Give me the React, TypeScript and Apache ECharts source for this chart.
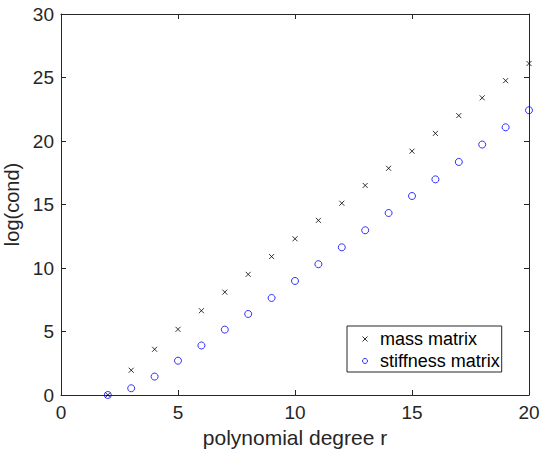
import React, { useEffect, useRef } from "react";
import * as echarts from "echarts";

const degrees = [2, 3, 4, 5, 6, 7, 8, 9, 10, 11, 12, 13, 14, 15, 16, 17, 18, 19, 20];
const massCond = [0, 1.95, 3.6, 5.17, 6.64, 8.1, 9.5, 10.9, 12.3, 13.75, 15.1, 16.5, 17.85, 19.2, 20.6, 22.0, 23.4, 24.75, 26.1];
const stiffCond = [0, 0.53, 1.45, 2.7, 3.9, 5.15, 6.38, 7.64, 8.98, 10.3, 11.63, 12.97, 14.33, 15.67, 16.98, 18.35, 19.72, 21.08, 22.42];
const seriesNames = ["mass matrix", "stiffness matrix"];
const xTitle = "polynomial degree r";
const yTitle = "log(cond)";

const crossPath = "path://M0,0L10,10M10,0L0,10";
const textColor = "#262626";
const axisColor = "#262626";
const blue = "#0000ff";

export default function App() {
  const ref = useRef<HTMLDivElement>(null);
  useEffect(() => {
    const chart = echarts.init(ref.current!, null, { renderer: "svg" });
    const axisCommon = {
      axisLine: { show: true, onZero: false, lineStyle: { color: axisColor, width: 1 } },
      axisTick: { show: true, inside: true, length: 5, lineStyle: { color: axisColor } },
      splitLine: { show: false },
    };
    chart.setOption({
      animation: false,
      backgroundColor: "#ffffff",
      textStyle: { fontFamily: "Liberation Sans, Arial, sans-serif" },
      grid: { left: 61, right: 11, top: 14, bottom: 55, containLabel: false, outerBoundsMode: "none" },
      xAxis: [
        {
          type: "value",
          min: 0,
          max: 20,
          interval: 5,
          position: "bottom",
          name: xTitle,
          nameLocation: "middle",
          nameGap: 28,
          nameTextStyle: { fontSize: 21, color: textColor },
          axisLabel: { fontSize: 19, color: textColor, margin: 8 },
          ...axisCommon,
        },
        {
          type: "value",
          min: 0,
          max: 20,
          interval: 5,
          position: "top",
          axisLabel: { show: false },
          ...axisCommon,
        },
      ],
      yAxis: [
        {
          type: "value",
          min: 0,
          max: 30,
          interval: 5,
          position: "left",
          name: yTitle,
          nameLocation: "middle",
          nameGap: 32,
          nameTextStyle: { fontSize: 20, color: textColor },
          axisLabel: { fontSize: 19, color: textColor, margin: 7 },
          ...axisCommon,
        },
        {
          type: "value",
          min: 0,
          max: 30,
          interval: 5,
          position: "right",
          axisLabel: { show: false },
          ...axisCommon,
        },
      ],
      legend: {
        show: true,
        orient: "vertical",
        left: 347,
        top: 326,
        padding: [4, 2, 2, 13],
        itemGap: 4,
        itemWidth: 16,
        itemHeight: 5,
        borderColor: "#262626",
        borderWidth: 1,
        backgroundColor: "#ffffff",
        textStyle: { fontSize: 18, lineHeight: 18, color: "#000000", padding: [0, 0, 0, 2] },
        data: [
          { name: seriesNames[0], icon: crossPath, itemStyle: { color: "none", borderColor: "#000", borderWidth: 1 } },
          { name: seriesNames[1], icon: "circle", itemStyle: { color: "rgba(255,255,255,0)", borderColor: blue, borderWidth: 1 } },
        ],
      },
      series: [
        {
          name: seriesNames[0],
          type: "scatter",
          symbol: crossPath,
          symbolSize: 5,
          itemStyle: { color: "none", borderColor: "#000000", borderWidth: 1 },
          data: degrees.map((d, i) => [d, massCond[i]]),
          z: 3,
        },
        {
          name: seriesNames[1],
          type: "scatter",
          symbol: "circle",
          symbolSize: 7,
          itemStyle: { color: "rgba(255,255,255,0)", borderColor: blue, borderWidth: 1 },
          data: degrees.map((d, i) => [d, stiffCond[i]]),
          z: 2,
        },
      ],
    });
    return () => chart.dispose();
  }, []);
  return <div ref={ref} style={{ width: 540, height: 450, position: "absolute", left: 0, top: 0 }} />;
}
